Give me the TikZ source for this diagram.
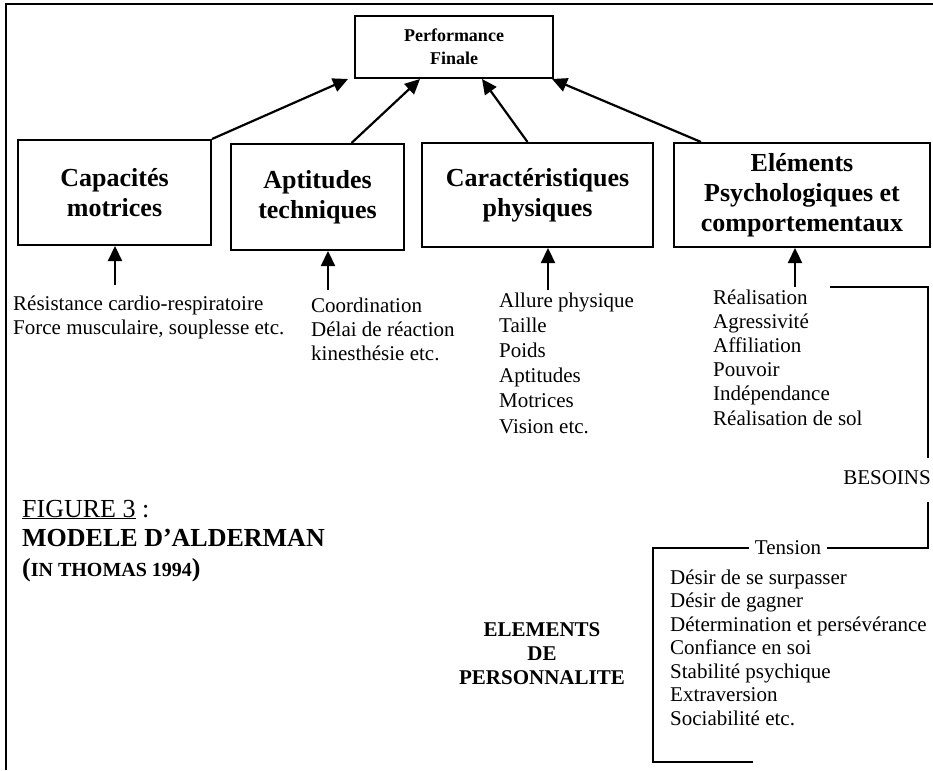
\documentclass[tikz,border=0pt]{standalone}
\usepackage{fontspec}
\setmainfont{Liberation Serif}
\usetikzlibrary{arrows.meta}
\begin{document}
\begin{tikzpicture}[x=1pt,y=-1pt,
  boxnode/.style={draw, line width=2pt, inner sep=0pt, align=center,
    font=\fontsize{26}{30}\selectfont\bfseries},
  % multi-line lists: the base anchor sits on the baseline of the last line
  listtxt/.style={anchor=base west, inner sep=0pt, align=left,
    font=\fontsize{21}{24.3}\selectfont},
  arr/.style={line width=2.2pt, -{Triangle[length=15pt,width=14pt]}},
  brk/.style={line width=2pt}]
\useasboundingbox (0,0) rectangle (933,770);
\fill[white] (0,0) rectangle (933,770);
% outer frame (top and left edges)
\draw[line width=2.5pt] (6,770) -- (6,4) -- (934,4);

% top box
\node[boxnode, minimum width=198pt, minimum height=62pt,
  font=\fontsize{18}{23}\selectfont\bfseries] (perf) at (454,47) {Performance\\Finale};

% the four factor boxes
\node[boxnode, minimum width=193pt, minimum height=105pt] (cap) at (114.5,192.5) {Capacités\\motrices};
\node[boxnode, minimum width=173pt, minimum height=106pt] (apt) at (317.5,197) {Aptitudes\\techniques};
\node[boxnode, minimum width=231pt, minimum height=104pt] (car) at (537.5,195) {Caractéristiques\\physiques};
\node[boxnode, minimum width=256pt, minimum height=104pt] (ele) at (802,195) {Eléments\\Psychologiques et\\comportementaux};

% arrows into the top box
\draw[arr] (cap.north east) -- ([xshift=-6pt]perf.south west);
\draw[arr] ([xshift=34pt]apt.north) -- ([xshift=-34pt]perf.south);
\draw[arr] ([xshift=-10pt]car.north) -- ([xshift=28pt]perf.south);
\draw[arr] ([xshift=28pt]ele.north west) -- ([xshift=-2pt]perf.south east);

% lists under each box (positions give the last line's baseline)
\node[listtxt] (capl) at (13,334.3) {Résistance cardio-respiratoire\\Force musculaire, souplesse etc.};
\node[listtxt] (aptl) at (311,360.6) {Coordination\\Délai de réaction\\kinesthésie etc.};
\node[listtxt, font=\fontsize{21}{25.2}\selectfont] (carl) at (499,433) {Allure physique\\Taille\\Poids\\Aptitudes\\Motrices\\Vision etc.};
\node[listtxt, font=\fontsize{21}{24.2}\selectfont] (elel) at (713,425) {Réalisation\\Agressivité\\Affiliation\\Pouvoir\\Indépendance\\Réalisation de sol};

% short arrows from the lists up to the boxes
\coordinate (capT) at (115,285);
\coordinate (aptT) at (328,290);
\coordinate (carT) at (548,290);
\coordinate (eleT) at (795,287);
\draw[arr] (capT) -- (capT |- cap.south);
\draw[arr] (aptT) -- (aptT |- apt.south);
\draw[arr] (carT) -- (carT |- car.south);
\draw[arr] (eleT) -- (eleT |- ele.south);

% needs / tension brackets
\node[font=\fontsize{21}{24}\selectfont, inner sep=0pt] (bes) at (887,478) {BESOINS};
\coordinate (b1a) at (830,287);
\coordinate (b1b) at (928,287);
\coordinate (b1c) at (928,458);
\draw[brk] (b1a) -- (b1b) -- (b1c);

\node[font=\fontsize{21}{24}\selectfont, inner xsep=6pt, inner ysep=0pt] (ten) at (788,548) {Tension};
\coordinate (b2a) at (928,502);
\coordinate (b2c) at (653,548);
\coordinate (b2d) at (653,762);
\coordinate (b2e) at (753,762);
\draw[brk] (b2a) -- (b2a |- ten.east) -- (ten.east);
\draw[brk] (ten.west) -- (b2c) -- (b2d) -- (b2e);

\node[listtxt, font=\fontsize{21}{23.5}\selectfont] (perl) at (670,725) {Désir de se surpasser\\Désir de gagner\\Détermination et persévérance\\Confiance en soi\\Stabilité psychique\\Extraversion\\Sociabilité etc.};

\node[inner sep=0pt, align=center, font=\fontsize{21}{24}\selectfont\bfseries] (pers) at (542,654) {ELEMENTS\\DE\\PERSONNALITE};

% figure caption
\node[anchor=base west, inner sep=0pt, font=\fontsize{26}{30}\selectfont] (fig) at (22,517) {\underline{FIGURE 3} :};
\node[anchor=base west, inner sep=0pt, font=\fontsize{26}{30}\selectfont\bfseries] (mod) at (22,546) {MODELE D’ALDERMAN};
\node[anchor=base west, inner sep=0pt, font=\fontsize{26}{30}\selectfont\bfseries] (src) at (22,576) {(\fontsize{20}{24}\selectfont IN THOMAS 1994\fontsize{26}{30}\selectfont)};
\end{tikzpicture}
\end{document}
